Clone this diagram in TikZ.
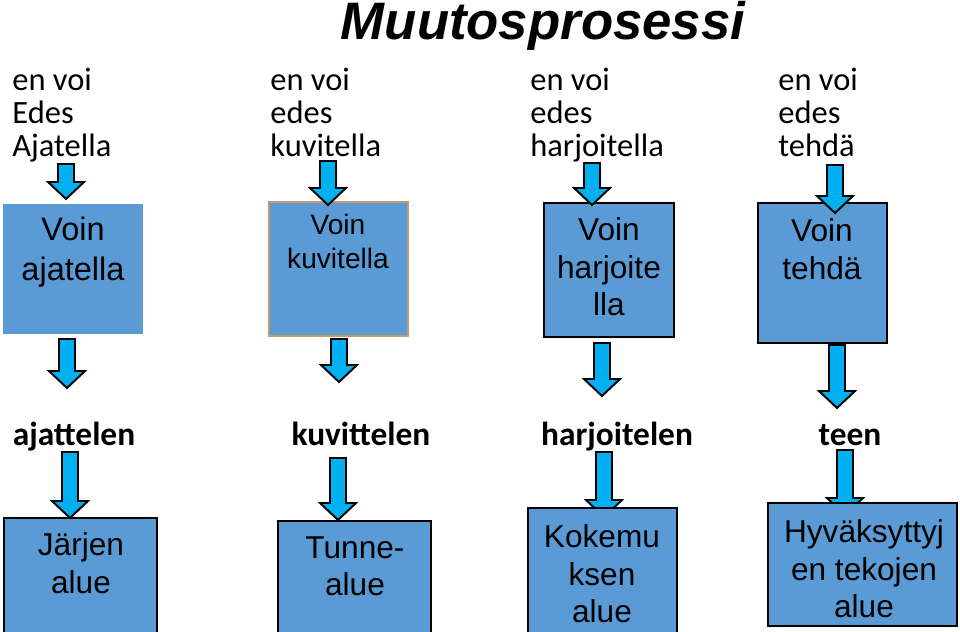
\documentclass[tikz,border=0pt]{standalone}
\usepackage{fontspec}
\setmainfont{Liberation Sans}
\newfontfamily\calibri{Carlito}
\usetikzlibrary{positioning,fit}

\definecolor{boxblue}{RGB}{91,155,213}
\definecolor{arrowcyan}{RGB}{0,176,240}
\definecolor{boxtan}{RGB}{196,152,112}

% block arrow: x, top, tip
\newcommand{\blockarrow}[3]{%
  \filldraw[blkarrow] (#1-8,#2) -- (#1+8,#2) -- (#1+8,#3-17) -- (#1+18,#3-17)
    -- (#1,#3) -- (#1-18,#3-17) -- (#1-8,#3-17) -- cycle;}

\begin{document}
\begin{tikzpicture}[x=0.02cm, y=-0.02cm,
  bluebox/.style={fill=boxblue, inner sep=0pt},
  edged/.style={draw=black, line width=1.2pt},
  blkarrow/.style={fill=arrowcyan, draw=black, line width=1.1pt, line join=miter},
  boxtext/.style={font=\fontsize{18}{21.5}\selectfont, align=center, inner sep=0pt, anchor=north},
  asklabel/.style={font=\calibri\fontsize{18.5}{18.6}\selectfont, align=left, inner sep=0pt, anchor=north west},
  steplabel/.style={font=\calibri\bfseries\fontsize{19}{22}\selectfont, inner sep=0pt, anchor=base}]
  \useasboundingbox (0,0) rectangle (960,632);
  % ---------- title ----------
  \node[font=\bfseries\itshape\fontsize{30}{32}\selectfont, inner sep=0pt, anchor=base] (title) at (543,39) {Muutosprosessi};
  % ---------- top labels ----------
  \node[asklabel] (ask1) at (12,68) {en voi\\Edes\\Ajatella};
  \node[asklabel] (ask2) at (270,68) {en voi\\edes\\kuvitella};
  \node[asklabel] (ask3) at (530,68) {en voi\\edes\\harjoitella};
  \node[asklabel] (ask4) at (778,68) {en voi\\edes\\tehdä};
  % ---------- upper boxes ----------
  \node[bluebox, fit={(3,204) (143,334)}] (can1) {};
  \node[bluebox, draw=boxtan, line width=1pt, fit={(269,202) (408,336)}] (can2) {};
  \node[bluebox, edged, fit={(544,203) (674,337)}] (can3) {};
  \node[bluebox, edged, fit={(758,203) (887,343)}] (can4) {};
  \node[boxtext, font=\fontsize{18.5}{22.5}\selectfont] (can1txt) at (73,217) {Voin\\ajatella};
  \node[boxtext, font=\fontsize{16}{19}\selectfont] (can2txt) at (338,214) {Voin\\kuvitella};
  \node[boxtext] (can3txt) at (609,217) {Voin\\harjoite\\lla};
  \node[boxtext] (can4txt) at (822,218) {Voin\\tehdä};
  % ---------- arrows into upper boxes ----------
  \foreach \x/\t/\b in {66/164/199, 328/161/205, 592/163/205, 835/165/213}
    {\blockarrow{\x}{\t}{\b}}
  % ---------- arrows out of upper boxes ----------
  \foreach \x/\t/\b in {67/339/388, 339/339/382, 602/343/396, 837/345/408}
    {\blockarrow{\x}{\t}{\b}}
  % ---------- step labels ----------
  \node[steplabel] (step1) at (74,445) {ajattelen};
  \node[steplabel] (step2) at (361,445) {kuvittelen};
  \node[steplabel] (step3) at (617,445) {harjoitelen};
  \node[steplabel] (step4) at (850,445) {teen};
  % ---------- arrows into lower boxes ----------
  \foreach \x/\t/\b in {70/452/518, 338/458/520, 604/452/517, 845/450/515}
    {\blockarrow{\x}{\t}{\b}}
  % ---------- lower boxes ----------
  \node[bluebox, edged, fit={(4,518) (157,650)}] (area1) {};
  \node[bluebox, edged, fit={(278,521) (431,650)}] (area2) {};
  \node[bluebox, edged, fit={(528,508) (677,650)}] (area3) {};
  \node[bluebox, edged, fit={(768,503) (957,626)}] (area4) {};
  \node[boxtext] (area1txt) at (81,532) {Järjen\\alue};
  \node[boxtext] (area2txt) at (355,536) {Tunne-\\alue};
  \node[boxtext] (area3txt) at (602,524) {Kokemu\\ksen\\alue};
  \node[boxtext] (area4txt) at (864,519) {Hyväksyttyj\\en tekojen\\alue};
\end{tikzpicture}
\end{document}
